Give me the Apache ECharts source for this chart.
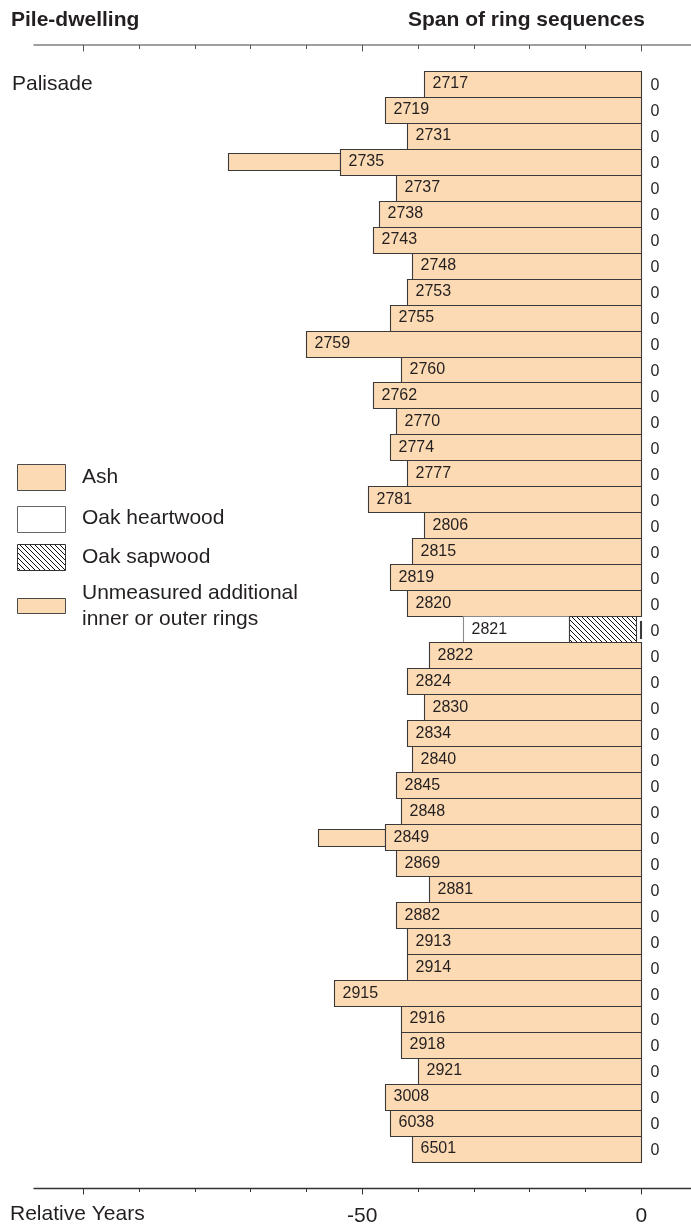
<!DOCTYPE html>
<html>
<head>
<meta charset="utf-8">
<script src="https://cdn.jsdelivr.net/npm/echarts@6/dist/echarts.min.js"></script>
<style>
  html, body { margin: 0; padding: 0; background: #ffffff; }
  #chart { width: 691px; height: 1227px; }
</style>
</head>
<body>
<div id="chart"></div>
<script>
// Pile numbers, top to bottom
const pileIds = ['2717','2719','2731','2735','2737','2738','2743','2748','2753','2755',
                 '2759','2760','2762','2770','2774','2777','2781','2806','2815','2819',
                 '2820','2821','2822','2824','2830','2834','2840','2845','2848','2849',
                 '2869','2881','2882','2913','2914','2915','2916','2918','2921','3008',
                 '6038','6501'];

// First measured ring of each sequence (relative years)
const spanStart = [-39,-46,-42,-54,-44,-47,-48,-41,-42,-45,
                   -60,-43,-48,-44,-45,-42,-49,-39,-41,-45,
                   -42,-32,-38,-42,-39,-42,-41,-44,-43,-46,
                   -44,-38,-44,-42,-42,-55,-43,-43,-40,-46,
                   -45,-41];

// Last measured ring of each sequence (relative years)
const spanEnd = [0,0,0,0,0,0,0,0,0,0,
                 0,0,0,0,0,0,0,0,0,0,
                 0,-1,0,0,0,0,0,0,0,0,
                 0,0,0,0,0,0,0,0,0,0,
                 0,0];

// Value written to the right of each sequence
const endLabels = ['0','0','0','0','0','0','0','0','0','0',
                   '0','0','0','0','0','0','0','0','0','0',
                   '0','0','0','0','0','0','0','0','0','0',
                   '0','0','0','0','0','0','0','0','0','0',
                   '0','0'];

// Oak piles (all others are ash) and where their sapwood begins
const oakIds = ['2821'];
const oakSapwoodStart = [-13];

// Unmeasured additional inner or outer rings
const unmeasuredIds  = ['2735', '2849', '2821'];
const unmeasuredFrom = [-74, -58, -0.3];
const unmeasuredTo   = [-54, -46, 0];

// Axis ticks and labels
const xTicks = [-100, -90, -80, -70, -60, -50, -40, -30, -20, -10, 0];
const xMajorTicks = [-100, -50, 0];
const xTickLabels = [-50, 0];

const X_MIN = -108.8;
const X_MAX = 8.9;

const ASH = '#fcdab3';
const EDGE = '#3a3a3a';
const INK = '#231f20';
const FONT = '"Liberation Sans", Arial, Helvetica, sans-serif';

// Diagonal hatch used for oak sapwood
function makeHatch() {
  const s = 5;
  const c = document.createElement('canvas');
  c.width = s; c.height = s;
  const g = c.getContext('2d');
  g.fillStyle = '#ffffff';
  g.fillRect(0, 0, s, s);
  g.strokeStyle = '#111111';
  g.lineWidth = 1;
  for (let k = -1; k <= 1; k++) {
    g.beginPath();
    g.moveTo(0, k * s);
    g.lineTo(s, s + k * s);
    g.stroke();
  }
  return { image: c, repeat: 'repeat' };
}
const hatch = makeHatch();

function renderRow(params, api) {
  const i = params.dataIndex;
  const yc = api.coord([0, i])[1];
  const band = api.size([0, 1])[1];
  const top = Math.round(yc - band / 2) + 0.5;
  const h = Math.round(band);
  const px = v => Math.round(api.coord([v, i])[0]) + 0.5;
  const children = [];

  unmeasuredIds.forEach((id, k) => {
    if (id !== pileIds[i]) return;
    const x0 = px(unmeasuredFrom[k]);
    const x1 = px(unmeasuredTo[k]);
    const eh = Math.round(band * 0.66);
    children.push({
      type: 'rect',
      shape: { x: x0, y: Math.round(yc - eh / 2) + 0.5, width: Math.max(x1 - x0, 1), height: eh },
      style: { fill: ASH, stroke: EDGE, lineWidth: 1.1 }
    });
  });

  const oakIdx = oakIds.indexOf(pileIds[i]);
  const xs = px(spanStart[i]);
  const xe = px(spanEnd[i]);
  if (oakIdx < 0) {
    children.push({
      type: 'rect',
      shape: { x: xs, y: top, width: xe - xs, height: h },
      style: { fill: ASH, stroke: EDGE, lineWidth: 1.1 }
    });
  } else {
    const xsap = px(oakSapwoodStart[oakIdx]);
    children.push({
      type: 'rect',
      shape: { x: xs, y: top, width: xsap - xs, height: h },
      style: { fill: '#ffffff', stroke: '#8a8a8a', lineWidth: 1.1 }
    });
    children.push({
      type: 'rect',
      shape: { x: xsap, y: top, width: xe - xsap, height: h },
      style: { fill: hatch, stroke: EDGE, lineWidth: 1.1 }
    });
  }

  children.push({
    type: 'text',
    x: xs + 8, y: yc,
    style: { text: pileIds[i], fill: INK, fontSize: 16, fontFamily: FONT, align: 'left', verticalAlign: 'middle' }
  });
  children.push({
    type: 'text',
    x: px(0) + 9, y: yc + 2,
    style: { text: endLabels[i], fill: INK, fontSize: 16, fontFamily: FONT, align: 'left', verticalAlign: 'middle' }
  });

  return { type: 'group', children };
}

const axisBase = {
  type: 'value', min: X_MIN, max: X_MAX,
  splitLine: { show: false },
  axisLabel: { show: false }
};

function txt(text, x, y, size, weight) {
  return {
    type: 'text', left: null, x, y,
    style: { text, fill: INK, fontSize: size, fontWeight: weight || 'normal', fontFamily: FONT,
             align: 'left', verticalAlign: 'middle' }
  };
}
function box(x, y, w, h, fill, stroke) {
  return { type: 'rect', shape: { x, y, width: w, height: h }, style: { fill, stroke, lineWidth: 1 } };
}

const chart = echarts.init(document.getElementById('chart'), null, { renderer: 'canvas' });
chart.setOption({
  animation: false,
  backgroundColor: '#ffffff',
  grid: { left: 34, right: 0, top: 70.7, bottom: 63.7 },
  xAxis: [
    Object.assign({}, axisBase, {
      position: 'top', offset: 25.7,
      axisLine: { show: true, lineStyle: { color: '#808080', width: 1.5 } },
      axisTick: { show: true, inside: true, length: 4, customValues: xTicks, lineStyle: { color: '#555555', width: 1 } }
    }),
    Object.assign({}, axisBase, {
      position: 'top', offset: 25.7,
      axisLine: { show: false },
      axisTick: { show: true, inside: true, length: 6.5, customValues: xMajorTicks, lineStyle: { color: '#555555', width: 1 } }
    }),
    Object.assign({}, axisBase, {
      position: 'bottom', offset: 26,
      axisLine: { show: true, lineStyle: { color: '#333333', width: 1.3 } },
      axisTick: { show: true, length: 4, customValues: xTicks, lineStyle: { color: '#333333', width: 1 } }
    }),
    Object.assign({}, axisBase, {
      position: 'bottom', offset: 26,
      axisLine: { show: false },
      axisTick: { show: true, length: 6.5, customValues: xMajorTicks, lineStyle: { color: '#333333', width: 1 } },
      axisLabel: { show: true, customValues: xTickLabels, fontSize: 21, color: INK, fontFamily: FONT, margin: 18 }
    })
  ],
  yAxis: { type: 'category', data: pileIds, inverse: true, show: false },
  series: [{
    type: 'custom',
    xAxisIndex: 0,
    clip: false,
    renderItem: renderRow,
    encode: { x: 0, y: 1 },
    data: spanStart.map((s, i) => [s, i])
  }],
  graphic: [
    txt('Pile-dwelling', 11, 20, 21, 'bold'),
    txt('Span of ring sequences', 408, 20, 21, 'bold'),
    txt('Palisade', 12, 84, 21),
    txt('Relative Years', 10, 1214, 21),
    box(17.5, 464.5, 48, 26, ASH, '#4a4a4a'),
    txt('Ash', 82, 477, 21),
    box(17.5, 506.5, 48, 26, '#ffffff', '#666666'),
    txt('Oak heartwood', 82, 518, 21),
    box(17.5, 544.5, 48, 26, hatch, '#333333'),
    txt('Oak sapwood', 82, 557, 21),
    box(17.5, 598.5, 48, 15, ASH, '#4a4a4a'),
    txt('Unmeasured additional', 82, 593, 21),
    txt('inner or outer rings', 82, 619, 21)
  ]
});
</script>
</body>
</html>
